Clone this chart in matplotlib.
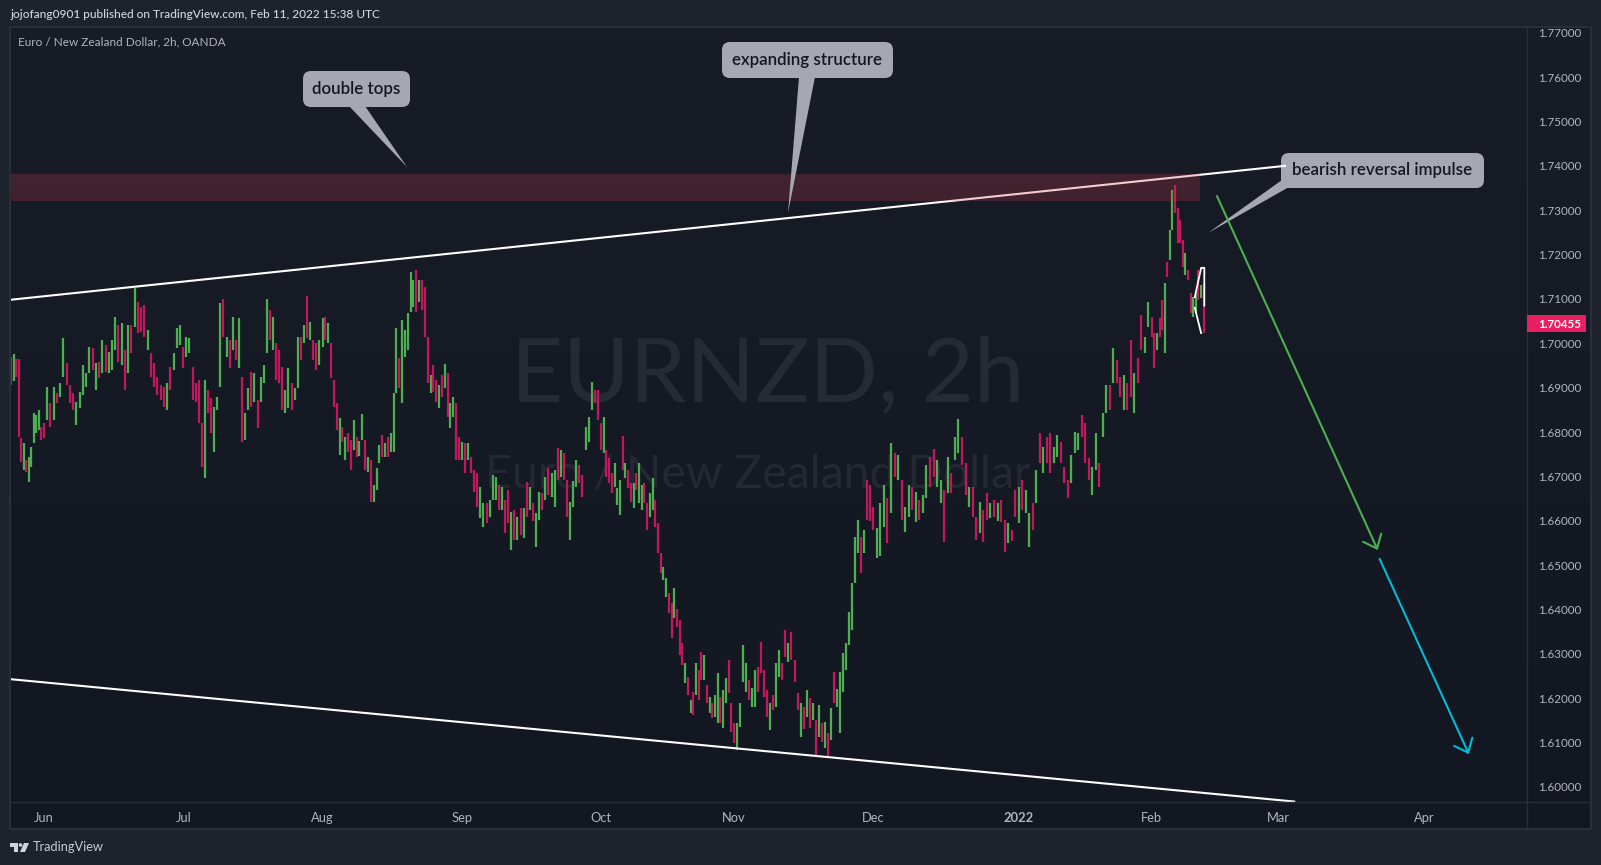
import matplotlib
matplotlib.use("Agg")
import matplotlib.pyplot as plt
import matplotlib.patches as patches
import numpy as np

# candle columns, grouped by month (high, low, colour g/r)
may_high = [1.6969,1.6975,1.6965,1.6965,1.6787,1.6775,1.6737,1.6744,1.6766,1.6843,1.6838,1.6850,1.6811]
may_low = [1.6906,1.6915,1.6925,1.6789,1.6733,1.6715,1.6710,1.6688,1.6721,1.6775,1.6798,1.6805,1.6782]
may_col = "rgrrrgrgggggr"

jun_high = [1.6820,1.6902,1.6866,1.6902,1.6888,1.6911,1.7012,1.6956,1.6906,1.6888,
            1.6868,1.6890,1.6951,1.6933,1.6992,1.6990,1.6956,1.6958,1.7007,1.6996,
            1.6980,1.7007,1.7059,1.7041,1.7046,1.6985,1.7041,1.7041,1.7125,1.7093,
            1.7082,1.7086,1.7030,1.6978,1.6956,1.6924,1.6906,1.6902,1.6911,1.6947,
            1.6978,1.7035,1.7041]
jun_low = [1.6787,1.6827,1.6811,1.6827,1.6866,1.6879,1.6924,1.6906,1.6866,1.6850,
           1.6816,1.6854,1.6884,1.6902,1.6933,1.6940,1.6895,1.6922,1.6933,1.6935,
           1.6933,1.6940,1.6985,1.6958,1.6951,1.6895,1.6933,1.6978,1.7037,1.7023,
           1.7026,1.7014,1.6985,1.6924,1.6902,1.6884,1.6872,1.6857,1.6850,1.6895,
           1.6940,1.6990,1.6996]
jun_col = "rgrgrggrrr" "gggggrgrgr" "gggrgrgrgr" "rrgrrrrrgr" "ggg"

jul_high = [1.6992,1.7014,1.7012,1.6947,1.6911,1.6917,1.6820,1.6917,1.6895,1.6877,
            1.6857,1.6879,1.7091,1.7100,1.7014,1.7007,1.7059,1.7007,1.7057,1.6924,
            1.6843,1.6899,1.6935,1.6933,1.6872,1.6924,1.6951,1.7100,1.7075,1.7059,
            1.7001,1.6985,1.6947,1.6895,1.6944,1.6911,1.6899,1.7014,1.7014,1.7041,
            1.7107,1.7048,1.7007,1.7001,1.7007]
jul_low = [1.6944,1.6969,1.6978,1.6872,1.6868,1.6820,1.6721,1.6696,1.6843,1.6798,
           1.6755,1.6850,1.6902,1.7014,1.6969,1.6944,1.6985,1.6962,1.6944,1.6778,
           1.6782,1.6850,1.6857,1.6868,1.6809,1.6868,1.6911,1.6978,1.7007,1.6985,
           1.6917,1.6911,1.6850,1.6843,1.6854,1.6850,1.6872,1.6899,1.6962,1.7001,
           1.7012,1.7007,1.6962,1.6940,1.6951]
jul_col = "rggrrrrgrr" "gggrgrgrgr" "ggrgrgggrg" "rrrggrggrg" "rgrrg"

aug_high = [1.7057,1.7059,1.7046,1.7001,1.6917,1.6866,1.6832,1.6811,1.6789,1.6798,
            1.6782,1.6827,1.6789,1.6780,1.6841,1.6782,1.6744,1.6737,1.6681,1.6719,
            1.6771,1.6793,1.6775,1.6789,1.6798,1.6888,1.7035,1.6967,1.7053,1.7030,
            1.7068,1.7161,1.7143,1.7165,1.7143,1.7143,1.7127,1.7014,1.6929,1.6951,
            1.6917,1.6906,1.6929,1.6953,1.6933,1.6866,1.6879,1.6866,1.6789]
aug_low = [1.6992,1.7007,1.7001,1.6922,1.6857,1.6805,1.6748,1.6778,1.6737,1.6755,
           1.6715,1.6760,1.6744,1.6745,1.6782,1.6715,1.6710,1.6642,1.6642,1.6670,
           1.6730,1.6744,1.6744,1.6744,1.6755,1.6755,1.6888,1.6899,1.6866,1.6969,
           1.6985,1.7071,1.7082,1.7071,1.7093,1.7075,1.7014,1.6911,1.6888,1.6890,
           1.6868,1.6854,1.6879,1.6899,1.6834,1.6809,1.6834,1.6737,1.6737]
aug_col = "grgrrrgrgr" "rgrggrgrgg" "grgrgggrgg" "gggrgrrrgr" "rgrgrggrr"

sep_high = [1.6778,1.6775,1.6775,1.6744,1.6715,1.6708,1.6676,1.6640,1.6640,1.6647,
            1.6703,1.6699,1.6681,1.6676,1.6647,1.6670,1.6620,1.6624,1.6609,1.6629,
            1.6629,1.6688,1.6676,1.6640,1.6618,1.6665,1.6663,1.6699,1.6719,1.6708,
            1.6715,1.6764,1.6760,1.6753,1.6692,1.6642,1.6690,1.6737,1.6726,1.6703,
            1.6811,1.6834,1.6913,1.6895,1.6895]
sep_low = [1.6737,1.6708,1.6737,1.6708,1.6665,1.6631,1.6606,1.6586,1.6595,1.6609,
           1.6647,1.6647,1.6624,1.6624,1.6573,1.6595,1.6534,1.6557,1.6557,1.6568,
           1.6561,1.6609,1.6624,1.6600,1.6541,1.6602,1.6624,1.6647,1.6658,1.6654,
           1.6631,1.6692,1.6699,1.6692,1.6609,1.6557,1.6630,1.6676,1.6685,1.6654,
           1.6760,1.6778,1.6850,1.6866,1.6827]
sep_col = "grgrrrggrg" "ggrgrrgrgr" "grgrggrgrg" "grgrrgggrr" "gggrr"

oct_high = [1.6820,1.6834,1.6760,1.6742,1.6708,1.6730,1.6674,1.6692,1.6791,1.6730,
            1.6715,1.6685,1.6685,1.6708,1.6730,1.6681,1.6685,1.6640,1.6663,1.6696,
            1.6647,1.6595,1.6528,1.6496,1.6471,1.6437,1.6415,1.6449,1.6400,1.6376,
            1.6325,1.6280,1.6248,1.6196,1.6214,1.6280,1.6264,1.6304,1.6298,1.6230,
            1.6203,1.6189,1.6207,1.6257,1.6203,1.6219,1.6246,1.6286,1.6189]
oct_low = [1.6760,1.6753,1.6699,1.6685,1.6663,1.6676,1.6636,1.6613,1.6715,1.6696,
           1.6674,1.6642,1.6629,1.6670,1.6640,1.6624,1.6640,1.6580,1.6609,1.6624,
           1.6586,1.6528,1.6482,1.6467,1.6428,1.6392,1.6336,1.6381,1.6360,1.6298,
           1.6275,1.6235,1.6207,1.6167,1.6162,1.6207,1.6196,1.6241,1.6241,1.6189,
           1.6167,1.6156,1.6158,1.6144,1.6144,1.6133,1.6189,1.6212,1.6124]
oct_col = "rgrrrgggrg" "rrgrggrrgg" "rrrggrrgrr" "rgrgrgrrgr" "grggrggrr"

nov_high = [1.6144,1.6144,1.6189,1.6320,1.6280,1.6241,1.6223,1.6264,1.6271,1.6327,
            1.6264,1.6219,1.6189,1.6207,1.6280,1.6309,1.6280,1.6354,1.6325,1.6350,
            1.6286,1.6212,1.6189,1.6180,1.6219,1.6201,1.6189,1.6151,1.6185,1.6144,
            1.6147,1.6122,1.6178,1.6259,1.6220,1.6259,1.6302,1.6325,1.6395,1.6460,
            1.6564,1.6602,1.6564,1.6580,1.6692,1.6680]
nov_low = [1.6099,1.6083,1.6135,1.6237,1.6214,1.6196,1.6180,1.6180,1.6214,1.6257,
           1.6203,1.6158,1.6128,1.6174,1.6180,1.6248,1.6241,1.6293,1.6282,1.6286,
           1.6237,1.6174,1.6113,1.6130,1.6158,1.6133,1.6151,1.6068,1.6113,1.6101,
           1.6088,1.6068,1.6106,1.6189,1.6180,1.6122,1.6214,1.6264,1.6320,1.6354,
           1.6460,1.6528,1.6482,1.6528,1.6602,1.6600]
nov_col = "rggggrggrr" "rrgrggrrgr" "rrgrgrgrgr" "grgrgggggg" "ggrgrr"

dec_high = [1.6631,1.6584,1.6640,1.6681,1.6652,1.6775,1.6753,1.6748,1.6692,1.6631,
            1.6681,1.6676,1.6665,1.6647,1.6658,1.6726,1.6744,1.6762,1.6737,1.6692,
            1.6670,1.6744,1.6708,1.6789,1.6830,1.6789,1.6730,1.6676,1.6676,1.6609,
            1.6642,1.6624,1.6663,1.6640,1.6647,1.6640,1.6647,1.6602,1.6595,1.6580,
            1.6670]
dec_low = [1.6580,1.6516,1.6520,1.6586,1.6550,1.6618,1.6699,1.6692,1.6602,1.6575,
           1.6609,1.6624,1.6597,1.6602,1.6618,1.6652,1.6676,1.6699,1.6676,1.6640,
           1.6552,1.6663,1.6663,1.6737,1.6753,1.6726,1.6658,1.6631,1.6609,1.6557,
           1.6573,1.6552,1.6602,1.6606,1.6609,1.6600,1.6597,1.6530,1.6550,1.6555,
           1.6609]
dec_col = "rgggrgrgrg" "grgrggrrgg" "rgrggrrgrr" "grrgrgrrgr" "r"

jan_high = [1.6676,1.6692,1.6670,1.6618,1.6640,1.6715,1.6798,1.6766,1.6789,1.6798,
            1.6766,1.6793,1.6778,1.6721,1.6692,1.6748,1.6800,1.6798,1.6838,1.6820,
            1.6742,1.6721,1.6798,1.6730,1.6843,1.6906,1.6906,1.6990,1.6962,1.6924,
            1.6929,1.6911,1.7007,1.6933,1.6967,1.7064,1.7014,1.7093]
jan_low = [1.6595,1.6624,1.6618,1.6541,1.6580,1.6640,1.6730,1.6708,1.6730,1.6708,
           1.6730,1.6744,1.6730,1.6685,1.6652,1.6685,1.6753,1.6760,1.6789,1.6730,
           1.6692,1.6658,1.6715,1.6676,1.6789,1.6843,1.6850,1.6911,1.6911,1.6879,
           1.6850,1.6850,1.6879,1.6843,1.6911,1.6985,1.6978,1.7037]
jan_col = "grggrgrgrr" "ggrrrgggrr" "rggrggrgrr" "grrgrrgg"

feb_high = [1.7059,1.7023,1.7023,1.7057,1.7098,1.7136,1.7183,1.7256,1.7346,1.7357,
            1.7305,1.7278,1.7233,1.7204,1.7165,1.7114,1.7104,1.7114,1.7165,1.7131,
            1.7136]
feb_low = [1.7014,1.6944,1.6985,1.7014,1.7030,1.6978,1.7150,1.7188,1.7256,1.7294,
           1.7226,1.7226,1.7172,1.7154,1.7143,1.7068,1.7059,1.7068,1.7098,1.7102,
           1.7023]
feb_col = "rrgrrgrggr" "rrrgrrggrg" "r"

# trading day number where each month starts (the axis skips weekends)
month_labels = ["Jun", "Jul", "Aug", "Sep", "Oct", "Nov", "Dec", "2022", "Feb", "Mar", "Apr"]
month_days = [0, 22, 44, 66, 88, 109, 131, 154, 175, 195, 218]
last_day = 183.6

price_ticks = [1.60, 1.61, 1.62, 1.63, 1.64, 1.65, 1.66, 1.67, 1.68, 1.69,
               1.70, 1.71, 1.72, 1.73, 1.74, 1.75, 1.76, 1.77]
last_price = 1.70455

# drawings
top_line_day = [-5.37, 196.05]
top_line_price = [1.7098, 1.7400]
bottom_line_day = [-5.37, 197.5]
bottom_line_price = [1.6243, 1.5967]
zone_day = [-5.37, 182.6]
zone_price = [1.7321, 1.7381]
green_arrow = [(185.3, 1.7332), (210.7, 1.6534)]
blue_arrow = [(211.0, 1.6514), (225.1, 1.6074)]
white_a_day = [181.8, 182.8, 183.3, 183.3]
white_a_price = [1.7104, 1.7170, 1.7170, 1.7085]
white_b_day = [181.8, 182.8]
white_b_price = [1.7080, 1.7023]

GREEN = "#4caf50"
RED = "#c2185b"
TEXT = "#b2b5be"
FRAME = "#2a2e39"
OUTER = "#1e222d"
BUBBLE = "#a5a8b2"
FONT = ["Lato", "DejaVu Sans"]
plt.rcParams["font.family"] = FONT

W, H = 1601, 865
fig = plt.figure(figsize=(W / 100, H / 100), dpi=100, facecolor=OUTER)

# bottom layer in pixels: panel gradient and watermark
under = fig.add_axes([0, 0, 1, 1], zorder=0)
under.set_xlim(0, W)
under.set_ylim(H, 0)
under.axis("off")
grad = np.linspace(0, 1, 64).reshape(-1, 1)
under.imshow(grad, extent=(10, 1591, 829, 27), aspect="auto", zorder=0,
             cmap=matplotlib.colors.LinearSegmentedColormap.from_list("p", ["#181c27", "#131722"]))
under.set_xlim(0, W)
under.set_ylim(H, 0)
under.text(768, 402, "EURNZD, 2h", color="#262a35", fontsize=65, ha="center", va="baseline", zorder=1)
under.text(758, 487, "Euro / New Zealand Dollar", color="#242833", fontsize=33.5, ha="center", va="baseline", zorder=1)

# price chart
ax = fig.add_axes([10 / W, 1 - 802 / H, 1517 / W, 775 / H], zorder=1)
ax.patch.set_alpha(0)
ax.set_autoscale_on(False)
ax.set_xlim(-5.37, 234.28)
ax.set_ylim(1.5966, 1.7713)

# top layer in pixels: frame and text
over = fig.add_axes([0, 0, 1, 1], zorder=2)
over.patch.set_alpha(0)
over.set_xlim(0, W)
over.set_ylim(H, 0)
over.axis("off")

months = [
    (may_high, may_low, may_col, -5.2, month_days[0]),
    (jun_high, jun_low, jun_col, month_days[0], month_days[1]),
    (jul_high, jul_low, jul_col, month_days[1], month_days[2]),
    (aug_high, aug_low, aug_col, month_days[2], month_days[3]),
    (sep_high, sep_low, sep_col, month_days[3], month_days[4]),
    (oct_high, oct_low, oct_col, month_days[4], month_days[5]),
    (nov_high, nov_low, nov_col, month_days[5], month_days[6]),
    (dec_high, dec_low, dec_col, month_days[6], month_days[7]),
    (jan_high, jan_low, jan_col, month_days[7], month_days[8]),
    (feb_high, feb_low, feb_col, month_days[8], last_day),
]
for high, low, col, start, end in months:
    assert len(high) == len(low) == len(col)
    days = np.linspace(start, end, len(high), endpoint=False)
    ax.vlines(days, low, high, colors=[GREEN if c == "g" else RED for c in col],
              linewidth=1.6, zorder=2)

# trend lines sit under the zone, the zone tints them
ax.plot(top_line_day, top_line_price, color="white", lw=1.5, zorder=3)
ax.plot(bottom_line_day, bottom_line_price, color="white", lw=1.5, zorder=3)
ax.plot(white_a_day, white_a_price, color="white", lw=1.3, zorder=3)
ax.plot(white_b_day, white_b_price, color="white", lw=1.3, zorder=3)
ax.add_patch(patches.Rectangle((zone_day[0], zone_price[0]), zone_day[1] - zone_day[0],
                               zone_price[1] - zone_price[0], facecolor=(200 / 255, 56 / 255, 76 / 255),
                               alpha=0.25, linewidth=0, zorder=4))

for pts, c in [(green_arrow, GREEN), (blue_arrow, "#00bcd4")]:
    ax.annotate("", xy=pts[1], xytext=pts[0], zorder=5,
                arrowprops=dict(arrowstyle="->,head_length=0.86,head_width=0.72", color=c, lw=1.5,
                                shrinkA=0, shrinkB=0))


def callout(x0, y0, x1, y1, tail, label, zorder):
    # rounded label with a pointed tail, in pixels
    box = patches.FancyBboxPatch((x0, y0), x1 - x0, y1 - y0, boxstyle="round,pad=0,rounding_size=8",
                                 facecolor=BUBBLE, edgecolor="none", transform=over.transData,
                                 zorder=zorder, clip_on=False)
    ax.add_patch(box)
    ax.add_patch(patches.Polygon(tail, closed=True, facecolor=BUBBLE, edgecolor="none",
                                 transform=over.transData, zorder=zorder, clip_on=False))
    ax.text((x0 + x1) / 2, (y0 + y1) / 2, label, color="#131722", fontsize=12.2, ha="center", va="center",
            transform=over.transData, zorder=zorder + 0.1, fontweight="semibold", clip_on=False)


callout(303, 71, 410, 107, [(349, 106), (365, 106), (407, 167)], "double tops", 6)
callout(722, 42, 893, 78, [(799, 77), (815, 77), (788, 213)], "expanding structure", 6)
callout(1281, 153, 1484, 188, [(1282, 180), (1289, 187), (1208, 233)], "bearish reversal impulse", 2.5)

# axes
for s in ax.spines.values():
    s.set_visible(False)
ax.yaxis.tick_right()
ax.set_yticks(price_ticks)
ax.set_yticklabels(["%.5f" % p for p in price_ticks], color=TEXT, fontsize=8.4)
ax.set_xticks(month_days)
ax.set_xticklabels(month_labels, color=TEXT, fontsize=9.3)
ax.tick_params(axis="both", length=0)
ax.tick_params(axis="y", pad=8)
ax.tick_params(axis="x", pad=7)
ax.get_xticklabels()[7].set_fontweight("bold")

# frame
over.plot([10, 1591, 1591, 10, 10], [27, 27, 829, 829, 27], color=FRAME, lw=1.5, zorder=1)
over.plot([10, 1591], [802, 802], color=FRAME, lw=1, zorder=1)
over.plot([1527, 1527], [27, 829], color=FRAME, lw=1, zorder=1)

# last price tag sits on the price scale
over.add_patch(patches.Rectangle((1527, 315), 59, 17, facecolor="#e91e63", edgecolor="none", zorder=3))
over.text(1538, 324, "%.5f" % last_price, color="white", fontsize=8.4, fontweight="bold", va="center", zorder=4)

over.text(10, 15, "jojofang0901 published on TradingView.com, Feb 11, 2022 15:38 UTC", color="#d1d4dc",
          fontsize=8.6, va="center", fontweight="medium")
over.text(18, 42, "Euro / New Zealand Dollar, 2h, OANDA", color=TEXT, fontsize=8.5, va="center")
over.text(33, 847, "TradingView", color="#c8cbd3", fontsize=9.2, va="center")

# logo
over.add_patch(patches.Polygon([(10, 843), (18, 843), (18, 852), (14, 852), (14, 847), (10, 847)],
                               facecolor="#d1d4dc", edgecolor="none"))
over.add_patch(patches.Circle((20.5, 845), 1.8, facecolor="#d1d4dc", edgecolor="none"))
over.add_patch(patches.Polygon([(24, 843), (29, 843), (25, 852), (20, 852)], facecolor="#d1d4dc", edgecolor="none"))

fig.savefig("out.png", dpi=100, facecolor=OUTER)
